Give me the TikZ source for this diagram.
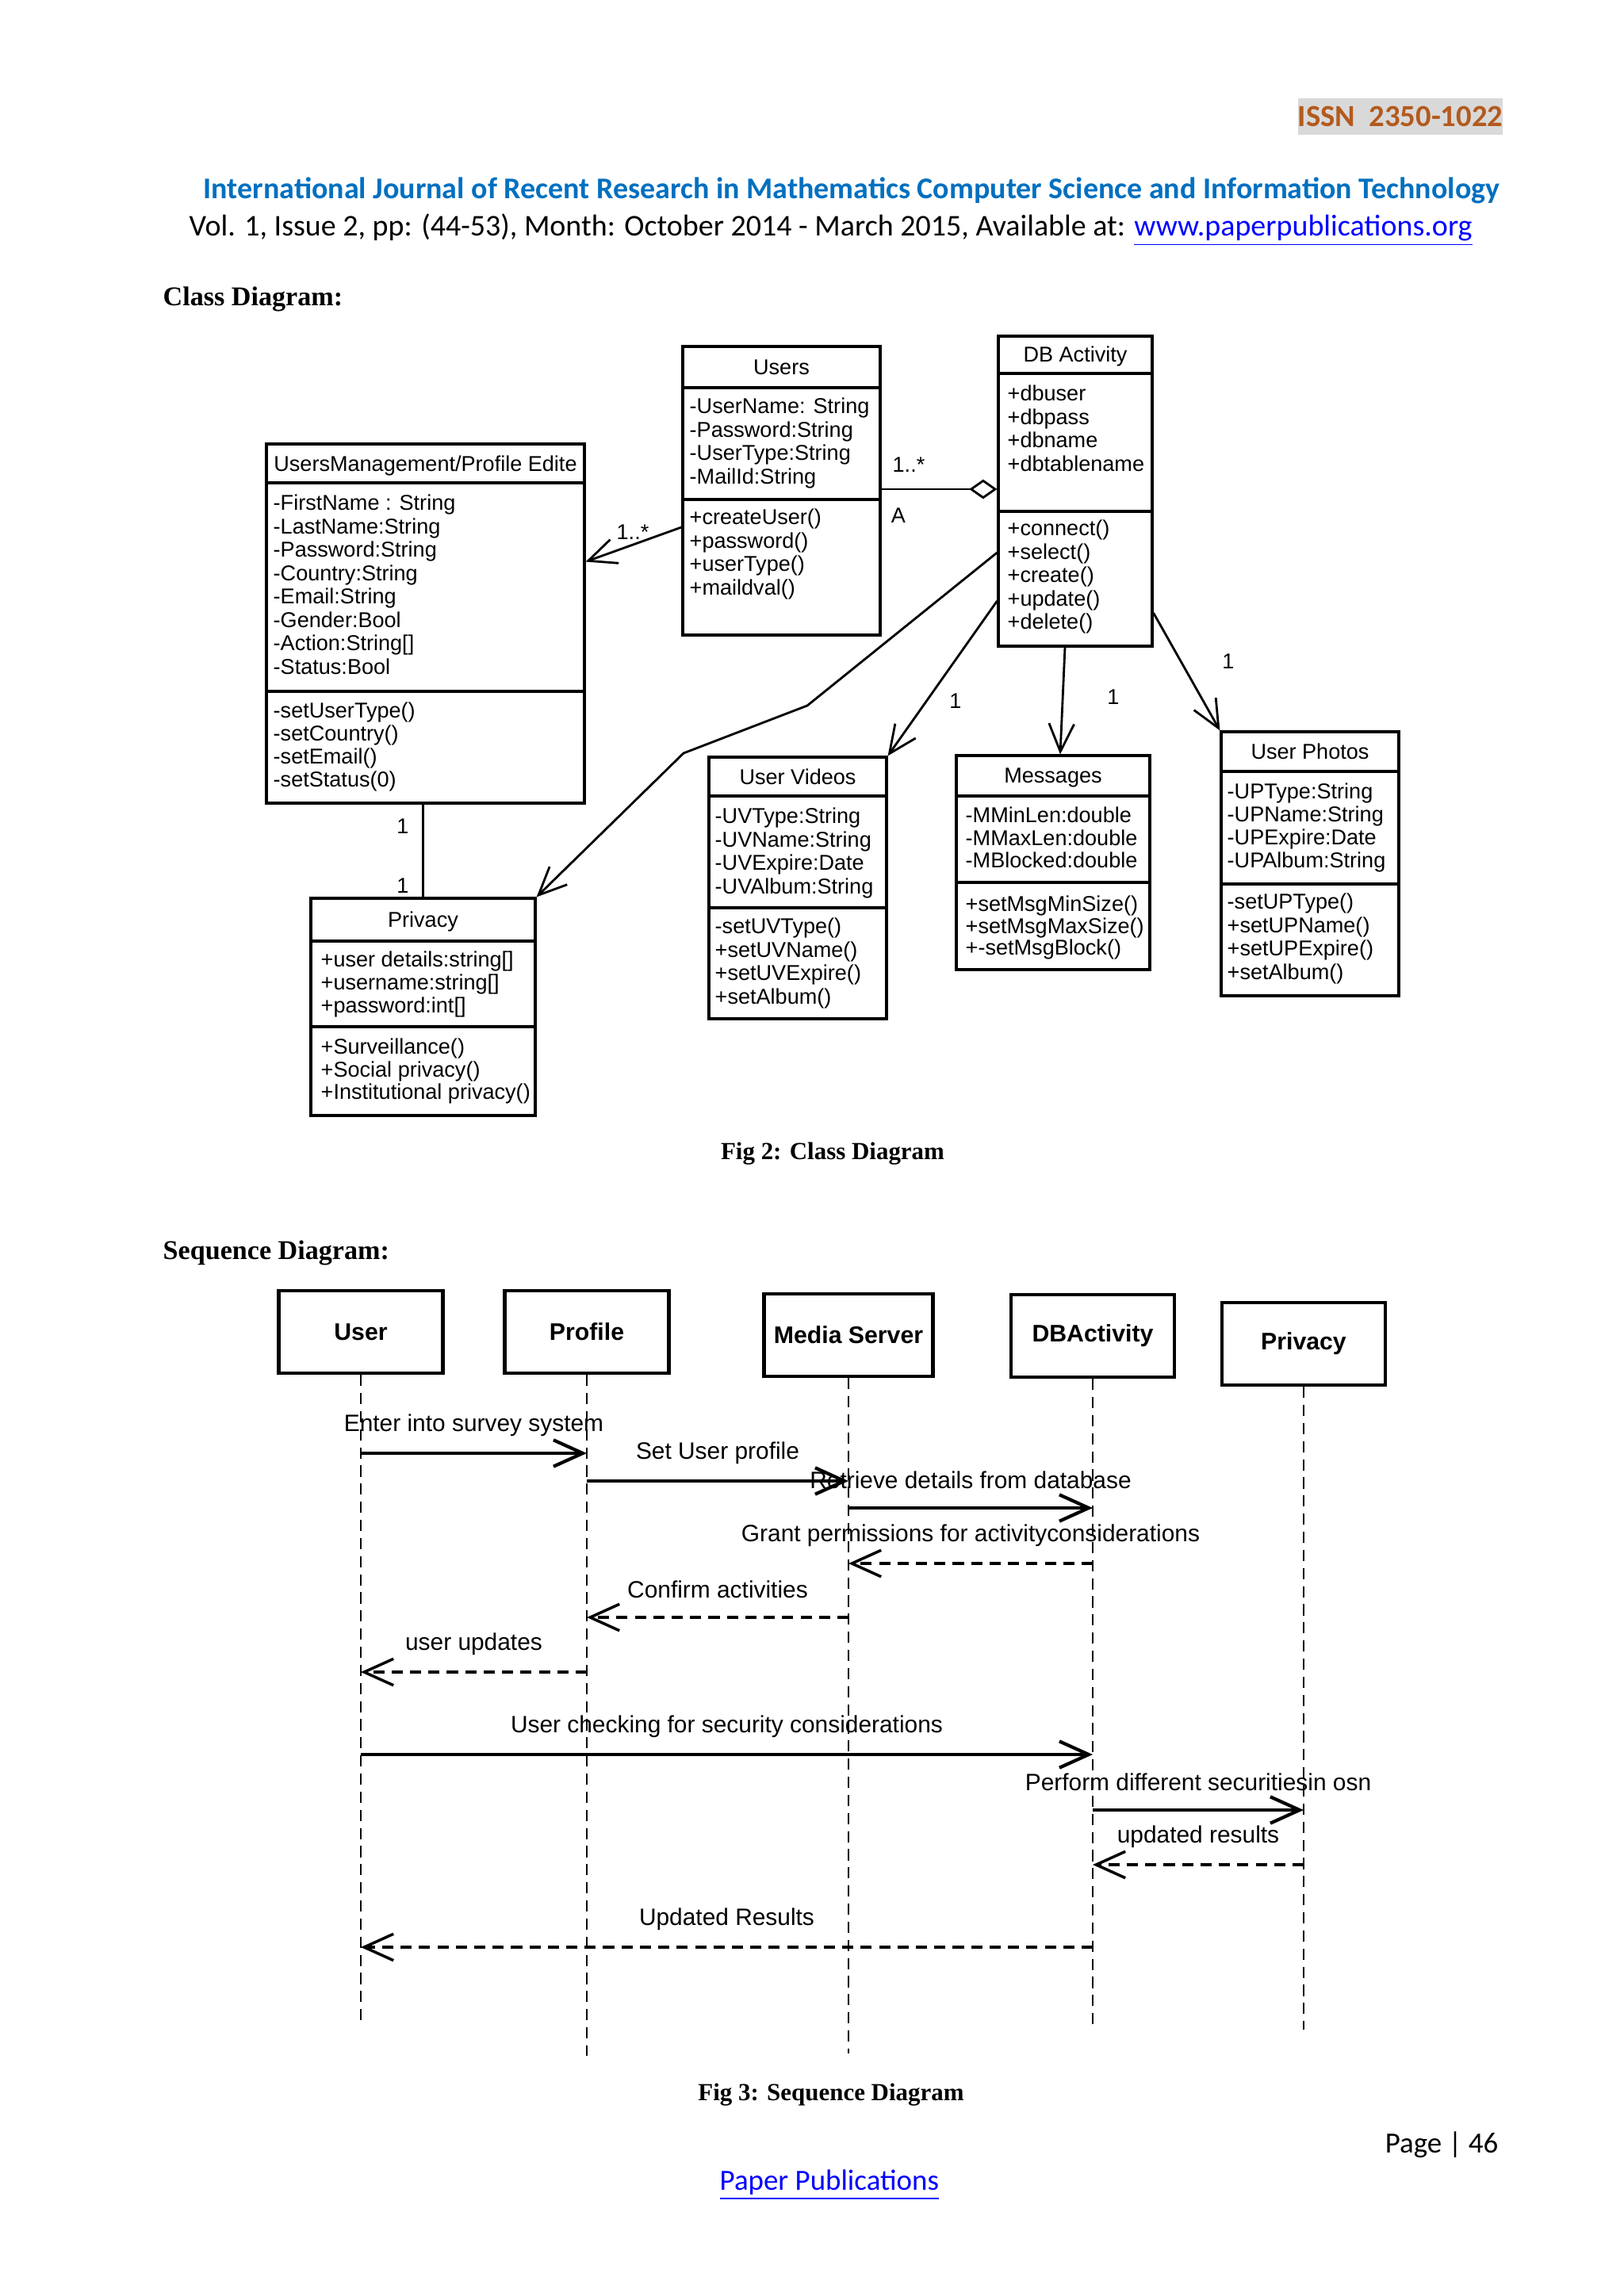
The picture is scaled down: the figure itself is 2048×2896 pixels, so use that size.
\documentclass[tikz,border=0pt]{standalone}
\usepackage{fontspec}
\setmainfont{Liberation Serif}
\newfontfamily\umlfont{Liberation Sans}
\newfontfamily\calfont{Carlito}
\usetikzlibrary{arrows.meta,fit,calc}
\definecolor{titleblue}{HTML}{0070C0}
\definecolor{linkblue}{HTML}{0000FF}
\definecolor{issnbrown}{HTML}{B35A1E}
\definecolor{issngray}{HTML}{D9D9D9}
\tikzset{
    classbox/.style={draw, line width=0.9pt, inner sep=0pt},
    classline/.style={line width=0.9pt},
    cname/.style={anchor=center, inner sep=0pt, text height=5.5pt, text depth=0pt, font=\umlfont\fontsize{7.7}{9}\selectfont},
    member/.style={anchor=west, inner sep=0pt, text height=5.5pt, text depth=0pt, font=\umlfont\fontsize{7.7}{9}\selectfont},
    mult/.style={cname},
    assoc/.style={line width=0.8pt, -{Straight Barb[length=10pt, width=9pt]}},
    aggr/.style={line width=0.8pt, -{Diamond[open, length=10pt, width=7pt]}},
    lifebox/.style={draw, line width=1.2pt, minimum height=1.04cm, font=\umlfont\bfseries\fontsize{8.6}{11}\selectfont},
    lifeline/.style={line width=0.7pt, dash pattern=on 4pt off 2.5pt},
    call/.style={line width=1.2pt, -{Straight Barb[length=10.5pt, width=9.5pt]}},
    reply/.style={line width=1pt, dash pattern=on 4pt off 2.6pt, -{Straight Barb[length=10.5pt, width=9.5pt, line width=1pt, sep=0pt]}},
    msgtxt/.style={inner sep=0pt, font=\umlfont\fontsize{8.5}{10}\selectfont},
    heading/.style={anchor=base west, inner sep=0pt, font=\bfseries\fontsize{9.7}{12}\selectfont},
    caption/.style={anchor=base, inner sep=0pt, font=\bfseries\fontsize{8.8}{11}\selectfont}
}
\begin{document}
\begin{tikzpicture}[x=0.01cm, y=-0.01cm]
    \path[fill=white, use as bounding box] (0,0) rectangle (2048,2896);

    % page header
    \node[fill=issngray, text=issnbrown, inner sep=0pt, minimum width=2.55cm, minimum height=0.46cm,
        font=\calfont\bfseries\fontsize{11}{13}\selectfont] (issn) at (1766,147) {ISSN\ \ 2350-1022};
    \node[anchor=base east, inner sep=0pt, text=titleblue, font=\calfont\bfseries\fontsize{10.8}{13}\selectfont] (journal) at (1892,250)
        {International Journal of Recent Research in Mathematics Computer Science and Information Technology};
    \node[anchor=base west, inner sep=0pt, font=\calfont\fontsize{10.8}{13}\selectfont] (vol) at (238,297)
        {Vol. 1, Issue 2, pp: (44-53), Month: October 2014 - March 2015, Available at: \textcolor{linkblue}{\underline{www.paperpublications.org}}};
    \node[heading] (classhead) at (205,385) {Class Diagram:};

    % UsersManagement/Profile Edite
    \node[classbox, fit={(336,560) (737,1013)}] (mgmt) {};
    \draw[classline] (mgmt.west |- 0,609) -- (mgmt.east |- 0,609);
    \draw[classline] (mgmt.west |- 0,872) -- (mgmt.east |- 0,872);
    \node[cname] (mgmt-t) at (mgmt.north |- 0,585) {UsersManagement/Profile Edite};
    \foreach \t [count=\i] in {-FirstName : String, -LastName:String, -Password:String, -Country:String, -Email:String, -Gender:Bool, -Action:String[], -Status:Bool}
        \node[member] (mgmt-a\i) at (344, 604.5+29.5*\i) {\t};
    \foreach \t [count=\i] in {-setUserType(), -setCountry(), -setEmail(), -setStatus(0)}
        \node[member] (mgmt-m\i) at (344, 867+29*\i) {\t};

    % Users
    \node[classbox, fit={(861,437) (1110,801)}] (users) {};
    \draw[classline] (users.west |- 0,489) -- (users.east |- 0,489);
    \draw[classline] (users.west |- 0,630) -- (users.east |- 0,630);
    \node[cname] (users-t) at (users.north |- 0,463) {Users};
    \foreach \t [count=\i] in {-UserName: String, -Password:String, -UserType:String, -MailId:String}
        \node[member] (users-a\i) at (869, 482.5+29.5*\i) {\t};
    \foreach \t [count=\i] in {+createUser(), +password(), +userType(), +maildval()}
        \node[member] (users-m\i) at (869, 622.5+29.5*\i) {\t};

    % DB Activity
    \node[classbox, fit={(1259,424) (1453,815)}] (db) {};
    \draw[classline] (db.west |- 0,471) -- (db.east |- 0,471);
    \draw[classline] (db.west |- 0,645) -- (db.east |- 0,645);
    \node[cname] (db-t) at (db.north |- 0,447) {DB Activity};
    \foreach \t [count=\i] in {+dbuser, +dbpass, +dbname, +dbtablename}
        \node[member] (db-a\i) at (1270, 466.5+29.5*\i) {\t};
    \foreach \t [count=\i] in {+connect(), +select(), +create(), +update(), +delete()}
        \node[member] (db-m\i) at (1270, 636.5+29.5*\i) {\t};

    % Privacy
    \node[classbox, fit={(392,1133) (675,1407)}] (privacy) {};
    \draw[classline] (privacy.west |- 0,1187) -- (privacy.east |- 0,1187);
    \draw[classline] (privacy.west |- 0,1295) -- (privacy.east |- 0,1295);
    \node[cname] (privacy-t) at (privacy.north |- 0,1160) {Privacy};
    \foreach \t [count=\i] in {+user details:string[], +username:string[], +password:int[]}
        \node[member] (privacy-a\i) at (404, 1181+29*\i) {\t};
    \foreach \t [count=\i] in {+Surveillance(), +Social privacy(), +Institutional privacy()}
        \node[member] (privacy-m\i) at (404, 1291.5+28.5*\i) {\t};

    % User Videos
    \node[classbox, fit={(894,955) (1118,1285)}] (videos) {};
    \draw[classline] (videos.west |- 0,1004) -- (videos.east |- 0,1004);
    \draw[classline] (videos.west |- 0,1145) -- (videos.east |- 0,1145);
    \node[cname] (videos-t) at (videos.north |- 0,980) {User Videos};
    \foreach \t [count=\i] in {-UVType:String, -UVName:String, -UVExpire:Date, -UVAlbum:String}
        \node[member] (videos-a\i) at (901, 999.5+29.5*\i) {\t};
    \foreach \t [count=\i] in {-setUVType(), +setUVName(), +setUVExpire(), +setAlbum()}
        \node[member] (videos-m\i) at (901, 1138.5+29.5*\i) {\t};

    % Messages
    \node[classbox, fit={(1206,953) (1450,1223)}] (messages) {};
    \draw[classline] (messages.west |- 0,1004) -- (messages.east |- 0,1004);
    \draw[classline] (messages.west |- 0,1113) -- (messages.east |- 0,1113);
    \node[cname] (messages-t) at (messages.north |- 0,978) {Messages};
    \foreach \t [count=\i] in {-MMinLen:double, -MMaxLen:double, -MBlocked:double}
        \node[member] (messages-a\i) at (1217, 999.5+28.5*\i) {\t};
    \foreach \t [count=\i] in {+setMsgMinSize(), +setMsgMaxSize(), +-setMsgBlock()}
        \node[member] (messages-m\i) at (1217, 1112.5+27.5*\i) {\t};

    % User Photos
    \node[classbox, fit={(1540,923) (1764,1256)}] (photos) {};
    \draw[classline] (photos.west |- 0,973) -- (photos.east |- 0,973);
    \draw[classline] (photos.west |- 0,1115) -- (photos.east |- 0,1115);
    \node[cname] (photos-t) at (photos.north |- 0,948) {User Photos};
    \foreach \t [count=\i] in {-UPType:String, -UPName:String, -UPExpire:Date, -UPAlbum:String}
        \node[member] (photos-a\i) at (1547, 969+29*\i) {\t};
    \foreach \t [count=\i] in {-setUPType(), +setUPName(), +setUPExpire(), +setAlbum()}
        \node[member] (photos-m\i) at (1547, 1107.5+29.5*\i) {\t};

    % associations
    \draw[assoc] ($(users.west)+(0,46)$) -- ($(mgmt.east)+(0,-78)$);
    \draw[aggr] (users.east |- 0,617) -- (db.west |- 0,617);
    \draw[assoc] (db.west |- 0,697) -- (1018,890) -- (862,950) -- (privacy.north east);
    \draw[assoc] (db.west |- 0,758) -- (videos.north east);
    \draw[assoc] ($(db.south)+(-13,0)$) -- ($(messages.north)+(9,0)$);
    \draw[assoc] (db.east |- 0,773) -- (photos.north west);
    \draw[classline] (privacy.north |- mgmt.south) -- (privacy.north);
    \node[mult] (m-users) at (798,671) {1..*};
    \node[mult] (m-agg) at (1146,586) {1..*};
    \node[mult] (m-a) at (1133,650) {A};
    \node[mult] (m-videos) at (1205,884) {1};
    \node[mult] (m-messages) at (1404,879) {1};
    \node[mult] (m-photos) at (1549,834) {1};
    \node[mult] (m-mgmt) at (508,1042) {1};
    \node[mult] (m-privacy) at (508,1117) {1};
    \node[caption] (fig2) at (1050,1462) {Fig 2: Class Diagram};

    % sequence diagram
    \node[heading] (seqhead) at (205,1588) {Sequence Diagram:};
    \node[lifebox, minimum width=2.07cm] (user) at (455,1680) {User};
    \node[lifebox, minimum width=2.07cm] (profile) at (740,1680) {Profile};
    \node[lifebox, minimum width=2.13cm] (media) at (1070,1684) {Media Server};
    \node[lifebox, minimum width=2.06cm] (dba) at (1378,1685) {DBActivity};
    \node[lifebox, minimum width=2.06cm] (privacy2) at (1644,1695) {Privacy};
    \draw[lifeline] (user.south) -- (user.south |- 0,2552);
    \draw[lifeline] (profile.south) -- (profile.south |- 0,2593);
    \draw[lifeline] (media.south) -- (media.south |- 0,2590);
    \draw[lifeline] (dba.south) -- (dba.south |- 0,2557);
    \draw[lifeline] (privacy2.south) -- (privacy2.south |- 0,2560);
    \foreach \a/\b/\y/\t/\s [count=\i] in {
        user/profile/1833/Enter into survey system/call,
        profile/media/1868/Set User profile/call,
        media/dba/1902/Retrieve details from database/call,
        dba/media/1972/Grant permissions for activityconsiderations/reply,
        media/profile/2040/Confirm activities/reply,
        profile/user/2109/user updates/reply,
        user/dba/2213/User checking for security considerations/call,
        dba/privacy2/2283/Perform different securitiesin osn/call,
        privacy2/dba/2352/updated results/reply,
        dba/user/2456/Updated Results/reply}
        \draw[\s] (\a |- 0,\y) -- (\b |- 0,\y) node[msgtxt, midway, yshift=0.35cm] (msg\i) {\t};
    \node[caption] (fig3) at (1048,2649) {Fig 3: Sequence Diagram};

    % page footer
    \node[anchor=base east, inner sep=0pt, font=\calfont\fontsize{10.5}{13}\selectfont] (page) at (1890,2715) {Page | 46};
    \node[anchor=base west, inner sep=0pt, text=linkblue, font=\calfont\fontsize{10.5}{13}\selectfont] (pub) at (907,2762) {\underline{Paper Publications}};
\end{tikzpicture}
\end{document}
